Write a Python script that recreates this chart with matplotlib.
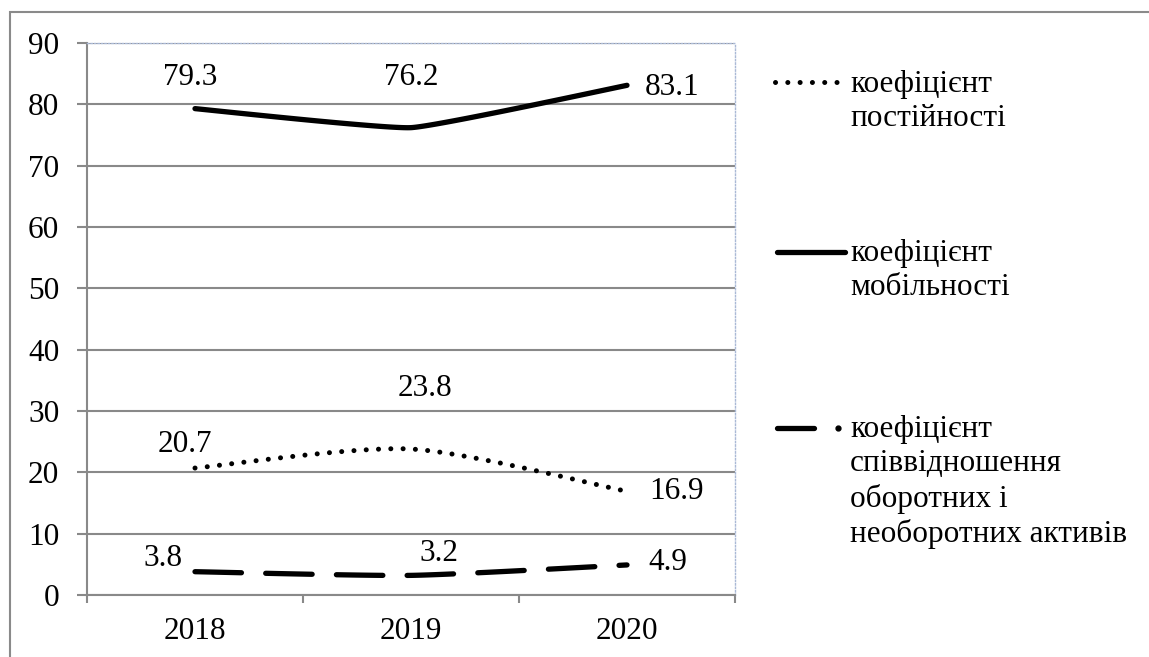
import numpy as np
import matplotlib
matplotlib.use("Agg")
import matplotlib.pyplot as plt
from matplotlib.lines import Line2D
from matplotlib.patches import Rectangle

plt.rcParams['font.family'] = ['Liberation Serif', 'DejaVu Serif']

years = ['2018', '2019', '2020']
constancy = [20.7, 23.8, 16.9]
mobility = [79.3, 76.2, 83.1]
ratio = [3.8, 3.2, 4.9]

labels = ['коефіцієнт\nпостійності',
          'коефіцієнт\nмобільності',
          'коефіцієнт\nспіввідношення\nоборотних і\nнеоборотних активів']

W, H = 1149, 657
FS = 22.5
GRID = '#898989'

DOT = dict(color='black', linewidth=3.6, linestyle=(0, (0.01, 2.45)), dash_capstyle='round')
SOLID = dict(color='black', linewidth=3.8, solid_capstyle='round')
DASH = dict(color='black', linewidth=3.8, linestyle=(0, (8.8, 4.6)), dash_capstyle='round')


def smooth(xs, ys, k=0.1, n=60):
    """Gentle Bezier smoothing through the points (tangent factor k)."""
    p = np.column_stack([xs, ys]).astype(float)
    ext = np.vstack([p[0], p, p[-1]])
    out = []
    for i in range(len(p) - 1):
        p0, p1, p2, p3 = ext[i], ext[i + 1], ext[i + 2], ext[i + 3]
        c1 = p1 + (p2 - p0) * k
        c2 = p2 - (p3 - p1) * k
        t = np.linspace(0, 1, n)[:, None]
        seg = ((1 - t) ** 3) * p1 + 3 * ((1 - t) ** 2) * t * c1 + 3 * (1 - t) * t ** 2 * c2 + t ** 3 * p2
        out.append(seg if i == 0 else seg[1:])
    s = np.vstack(out)
    return s[:, 0], s[:, 1]


fig = plt.figure(figsize=(W / 100, H / 100), dpi=100)
fig.patch.set_facecolor('white')

# outer chart border (left and top edges visible)
fig.add_artist(Rectangle((10 / W, -0.1), 1.2, 1 - 12 / H + 0.1, transform=fig.transFigure,
                         fill=False, edgecolor='#8a8a8a', linewidth=1.5))

ax = fig.add_axes([87 / W, 1 - 595 / H, (735 - 87) / W, (595 - 43) / H])
x = np.arange(len(years))
ax.set_xlim(-0.5, len(years) - 0.5)
ax.set_ylim(0, 90)
ax.set_yticks(np.arange(0, 91, 10))
ax.yaxis.grid(True, color=GRID, linewidth=1.5)
ax.set_axisbelow(True)

ax.set_xticks(x)
ax.set_xticklabels(years, fontsize=FS)
ax.set_xticks(np.arange(-0.5, len(years), 1.0), minor=True)
ax.tick_params(axis='x', which='major', length=0, pad=16)
ax.tick_params(axis='x', which='minor', length=6, width=1.5, color=GRID, direction='out')
ax.tick_params(axis='y', length=7, width=1.5, color=GRID, pad=13, labelsize=FS)

for side in ('left', 'bottom'):
    ax.spines[side].set_color(GRID)
    ax.spines[side].set_linewidth(1.5)
for side in ('top', 'right'):
    ax.spines[side].set_color('#aab9d6')
    ax.spines[side].set_linewidth(1.0)
    ax.spines[side].set_linestyle((0, (1, 1.5)))

# series
sx, sy = smooth(x, constancy, k=0.13)
ax.plot(sx, sy, zorder=3, **DOT)
sx, sy = smooth(x, mobility, k=0.06)
ax.plot(sx, sy, zorder=3, **SOLID)
sx, sy = smooth(x, ratio, k=0.1)
ax.plot(sx, sy, zorder=3, **DASH)

# data labels (offsets in pixels)
label_offsets = {
    'constancy': [(-10, 24), (14, 61), (50, 0)],
    'mobility': [(-5, 31), (0, 50), (45, -2)],
    'ratio': [(-32, 13), (28, 22), (41, 2)],
}
for key, vals in (('constancy', constancy), ('mobility', mobility), ('ratio', ratio)):
    for i, v in enumerate(vals):
        ax.annotate(f'{v}', xy=(i, v), xytext=label_offsets[key][i], textcoords='offset pixels',
                    ha='center', va='center', fontsize=FS, zorder=4)


# legend drawn in figure pixel space
def fx(px):
    return px / W


def fy(py):
    return 1 - py / H


leg_y = [82, 252, 428]
fig.add_artist(Line2D([fx(775), fx(838)], [fy(leg_y[0])] * 2, **DOT))
fig.add_artist(Line2D([fx(777), fx(845)], [fy(leg_y[1])] * 2, **SOLID))
fig.add_artist(Line2D([fx(777), fx(814)], [fy(leg_y[2])] * 2, **SOLID))
fig.add_artist(Line2D([fx(838)], [fy(leg_y[2])], marker='o', markersize=3.5,
                      color='black', linestyle='none'))

text_top = [70, 239, 415]
for lbl, ty in zip(labels, text_top):
    fig.text(fx(850), fy(ty), lbl, ha='left', va='top', fontsize=FS, linespacing=1.24)

fig.savefig('out.png', dpi=100, facecolor='white')
